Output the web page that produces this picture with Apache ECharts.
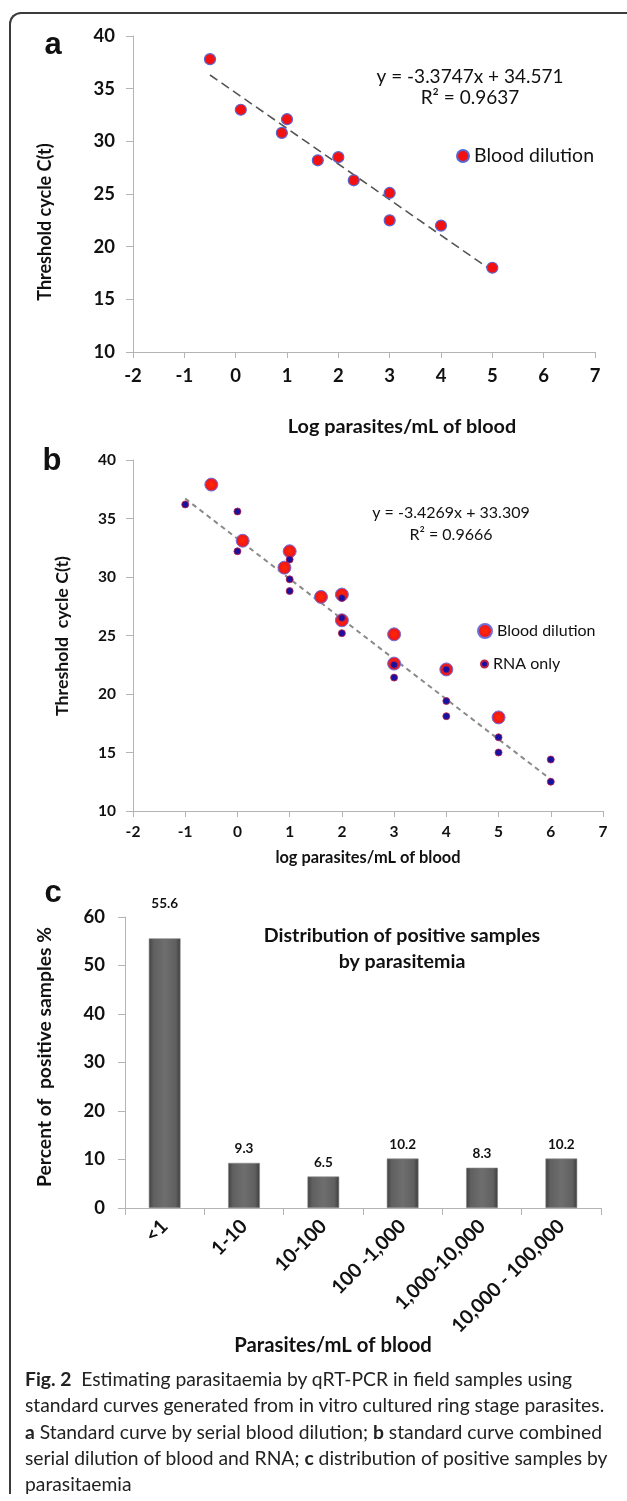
<!DOCTYPE html>
<html>
<head>
<meta charset="utf-8">
<script src="https://cdn.jsdelivr.net/npm/echarts@6/dist/echarts.min.js"></script>
<style>
  html, body { margin:0; padding:0; background:#fff; }
  #wrap { position:relative; width:627px; height:1501px; overflow:hidden; }
  #frame { position:absolute; left:9px; top:12px; width:640px; height:1480px;
           border-top:2px solid #3c3c3c; border-left:2px solid #3c3c3c; border-top-left-radius:12px; }
  #chart { position:absolute; left:0; top:0; width:627px; height:1501px; }
  #caption { position:absolute; left:25px; top:1366px; font-family:Lato, "Open Sans", sans-serif;
             font-size:19.3px; line-height:26.3px; color:#222; white-space:nowrap; }
  #caption b { font-weight:700; }
</style>
</head>
<body>
<div id="wrap">
  <div id="frame"></div>
  <div id="chart"></div>
  <div id="caption">
    <div><b>Fig. 2</b>&nbsp; Estimating parasitaemia by qRT-PCR in field samples using</div>
    <div>standard curves generated from in vitro cultured ring stage parasites.</div>
    <div><b>a</b> Standard curve by serial blood dilution; <b>b</b> standard curve combined</div>
    <div>serial dilution of blood and RNA; <b>c</b> distribution of positive samples by</div>
    <div>parasitaemia</div>
  </div>
</div>
<script>
// ---- Panel a: standard curve by serial blood dilution ----
const aBloodX = [-0.5, 0.1, 0.9, 1.0, 1.6, 2.0, 2.3, 3.0, 3.0, 4.0, 5.0];
const aBloodY = [37.8, 33.0, 30.8, 32.1, 28.2, 28.5, 26.3, 25.1, 22.5, 22.0, 18.0];
const aTrendX = [-0.5, 5.0];
const aTrendY = [36.3, 17.7];
const aEquation = 'y = -3.3747x + 34.571';
const aR2 = 'R² = 0.9637';

// ---- Panel b: blood dilution + RNA only ----
const bBloodX = [-0.5, 0.1, 0.9, 1.0, 1.6, 2.0, 2.0, 3.0, 3.0, 4.0, 5.0];
const bBloodY = [37.9, 33.1, 30.8, 32.2, 28.3, 28.5, 26.3, 25.1, 22.6, 22.1, 18.0];
const bRnaX = [-1, 0, 0, 1, 1, 1, 2, 2, 2, 3, 3, 4, 4, 4, 5, 5, 6, 6];
const bRnaY = [36.2, 35.6, 32.2, 31.5, 29.8, 28.8, 28.2, 26.5, 25.2, 22.5, 21.4, 22.1, 19.4, 18.1, 16.3, 15.0, 14.4, 12.5];
const bTrendX = [-1, 6];
const bTrendY = [36.7, 12.7];
const bEquation = 'y = -3.4269x + 33.309';
const bR2 = 'R² = 0.9666';

// ---- Panel c: distribution of positive samples ----
const cCategories = ['<1', '1-10', '10-100', '100 -1,000', '1,000-10,000', '10,000 - 100,000'];
const cValues = [55.6, 9.3, 6.5, 10.2, 8.3, 10.2];

const xTicksAB = { min: -2, max: 7, interval: 1 };
const yTicksAB = { min: 10, max: 40, interval: 5 };
const yTicksC = { min: 0, max: 60, interval: 10 };

const pairs = (xs, ys) => xs.map((x, i) => [x, ys[i]]);
const FONT = 'Lato, "Open Sans", sans-serif';
const AX = '#b4b4b4';

function valueAxis(grid, t, fs, margin, horiz) {
  return {
    type: 'value', gridIndex: grid, min: t.min, max: t.max, interval: t.interval,
    axisLine: { show: true, onZero: false, lineStyle: { color: AX, width: 1 } },
    axisTick: { show: true, length: horiz ? 6 : 7, lineStyle: { color: AX } },
    splitLine: { show: false },
    axisLabel: { color: '#111', fontFamily: FONT, fontWeight: 'bold', fontSize: fs, margin: margin }
  };
}

function txt(text, x, y, fs, weight, opts) {
  return Object.assign({
    type: 'text', x: x, y: y, z: 10,
    style: { text: text, fontFamily: FONT, fontSize: fs, fontWeight: weight || 'normal',
             fill: '#111', align: 'center', verticalAlign: 'middle' }
  }, opts || {});
}
function letter(t, x, y) {
  return { type: 'text', x: x, y: y, z: 10,
    style: { text: t, fontFamily: '"Liberation Sans", Arial, sans-serif', fontSize: 31, fontWeight: 'bold',
             fill: '#111', align: 'center', verticalAlign: 'middle' } };
}

const chart = echarts.init(document.getElementById('chart'), null, { renderer: 'canvas' });

const barData = cValues.map((v, i) => i === 0 ? { value: v, label: { offset: [0, -21] } } : v);

chart.setOption({
  animation: false,
  grid: [
    { left: 133, top: 36, width: 462, height: 316 },
    { left: 133, top: 460, width: 470, height: 351 },
    { left: 125, top: 917, width: 476, height: 291 }
  ],
  xAxis: [
    valueAxis(0, xTicksAB, 18.5, 15, true),
    valueAxis(1, xTicksAB, 15.5, 13, true),
    {
      type: 'category', gridIndex: 2, data: cCategories,
      axisLine: { show: true, lineStyle: { color: AX } },
      axisTick: { show: true, length: 7, lineStyle: { color: AX } },
      axisLabel: { rotate: 45, interval: 0, margin: 15, color: '#111', fontFamily: FONT, fontWeight: 'bold', fontSize: 19.5 }
    }
  ],
  yAxis: [
    valueAxis(0, yTicksAB, 18.5, 18, false),
    valueAxis(1, yTicksAB, 15.5, 17, false),
    valueAxis(2, yTicksC, 18.5, 20, false)
  ],
  legend: [
    { left: 456, top: 146, padding: 0, itemWidth: 12, itemHeight: 12, icon: 'circle',
      data: ['Blood dilution a'], formatter: () => 'Blood dilution',
      textStyle: { fontFamily: FONT, fontSize: 19.5, color: '#111' } },
    { left: 477, top: 623, padding: 0, itemWidth: 14, itemHeight: 14, icon: 'circle',
      data: ['Blood dilution b'], formatter: () => 'Blood dilution',
      textStyle: { fontFamily: FONT, fontSize: 16, color: '#111' } },
    { left: 480, top: 656, padding: 0, itemWidth: 7, itemHeight: 7, icon: 'circle',
      data: ['RNA only'], itemGap: 5,
      textStyle: { fontFamily: FONT, fontSize: 16, color: '#111' } }
  ],
  series: [
    { name: 'trend a', type: 'line', xAxisIndex: 0, yAxisIndex: 0, data: pairs(aTrendX, aTrendY),
      symbol: 'none', lineStyle: { color: '#555', width: 1.6, type: [9, 5] }, z: 2 },
    { name: 'Blood dilution a', type: 'scatter', xAxisIndex: 0, yAxisIndex: 0, data: pairs(aBloodX, aBloodY),
      symbolSize: 11, itemStyle: { color: '#f21010', borderColor: '#5a66d0', borderWidth: 1.2, opacity: 1 }, z: 3 },
    { name: 'trend b', type: 'line', xAxisIndex: 1, yAxisIndex: 1, data: pairs(bTrendX, bTrendY),
      symbol: 'none', lineStyle: { color: '#8a8a8a', width: 2, type: [5, 4] }, z: 2 },
    { name: 'Blood dilution b', type: 'scatter', xAxisIndex: 1, yAxisIndex: 1, data: pairs(bBloodX, bBloodY),
      symbolSize: 13,
      itemStyle: { color: new echarts.graphic.RadialGradient(0.5, 0.5, 0.5, [
        { offset: 0, color: '#ff2a00' }, { offset: 0.7, color: '#f01818' }, { offset: 1, color: '#c03060' }]),
        borderColor: '#7070d8', borderWidth: 1, opacity: 1 }, z: 3 },
    { name: 'RNA only', type: 'scatter', xAxisIndex: 1, yAxisIndex: 1, data: pairs(bRnaX, bRnaY),
      symbolSize: 7, itemStyle: { color: '#1a10a0', borderColor: '#c02040', borderWidth: 0.8, opacity: 1 }, z: 4 },
    { name: 'percent', type: 'bar', xAxisIndex: 2, yAxisIndex: 2, data: barData, barWidth: '40%',
      itemStyle: { color: new echarts.graphic.LinearGradient(0, 0, 1, 0, [
        { offset: 0, color: '#404040' }, { offset: 0.15, color: '#606060' }, { offset: 0.5, color: '#6e6e6e' },
        { offset: 0.85, color: '#606060' }, { offset: 1, color: '#3c3c3c' }]),
        borderColor: '#8a8a8a', borderWidth: 0.6 },
      label: { show: true, position: 'top', distance: 7, color: '#111', fontFamily: FONT, fontWeight: 'bold', fontSize: 13.5 } }
  ],
  graphic: [
    letter('a', 53, 45),
    letter('b', 52, 461),
    letter('c', 53, 893),
    txt(aEquation, 470, 77, 19),
    txt(aR2, 470, 98, 19),
    txt(bEquation, 451, 513, 16),
    txt(bR2, 451, 535, 16),
    txt('Log parasites/mL of blood', 402, 427, 19.8, 'bold'),
    txt('log parasites/mL of blood', 368, 858, 16.4, 'bold'),
    txt('Parasites/mL of blood', 333, 1345, 20.3, 'bold'),
    txt('Threshold cycle C(t)', 45, 222, 18, 'bold', { rotation: Math.PI / 2 }),
    txt('Threshold  cycle C(t)', 62, 636, 17.8, 'bold', { rotation: Math.PI / 2 }),
    txt('Percent of  positive samples %', 45, 1057, 19.3, 'bold', { rotation: Math.PI / 2 }),
    txt('Distribution of positive samples', 402, 936, 19.6, 'bold'),
    txt('by parasitemia', 402, 962, 19.6, 'bold')
  ]
});
</script>
</body>
</html>
